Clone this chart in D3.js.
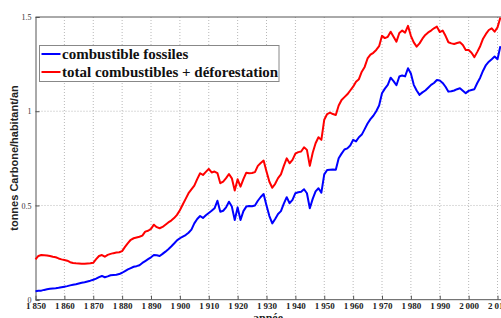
<!DOCTYPE html>
<html>
<head>
<meta charset="utf-8">
<script src="https://d3js.org/d3.v7.min.js"></script>
<style>
    body { margin: 0; background: #fff; overflow: hidden; }
    svg { display: block; }
</style>
</head>
<body>
<script>
// years and per-capita emissions (tonnes of carbon per inhabitant per year)
var years = d3.range(1850, 2012);

var fossil = [
    0.045, 0.047, 0.048, 0.052, 0.055, 0.058, 0.060, 0.061, 0.063, 0.066,
    0.069, 0.072, 0.076, 0.079, 0.082, 0.086, 0.090, 0.093, 0.097, 0.101,
    0.106, 0.112, 0.120, 0.126, 0.119, 0.124, 0.130, 0.131, 0.132, 0.136,
    0.143, 0.152, 0.161, 0.168, 0.175, 0.178, 0.183, 0.195, 0.205, 0.215,
    0.225, 0.237, 0.236, 0.232, 0.243, 0.255, 0.268, 0.282, 0.298, 0.315,
    0.326, 0.335, 0.343, 0.355, 0.372, 0.405, 0.428, 0.444, 0.434, 0.448,
    0.460, 0.472, 0.485, 0.525, 0.467, 0.472, 0.490, 0.520, 0.494, 0.423,
    0.490, 0.423, 0.470, 0.494, 0.497, 0.496, 0.500, 0.525, 0.545, 0.561,
    0.500, 0.444, 0.405, 0.428, 0.455, 0.470, 0.510, 0.544, 0.512, 0.530,
    0.565, 0.570, 0.573, 0.586, 0.565, 0.485, 0.535, 0.575, 0.591, 0.568,
    0.665, 0.688, 0.690, 0.691, 0.690, 0.750, 0.775, 0.797, 0.803, 0.818,
    0.848, 0.840, 0.862, 0.876, 0.905, 0.935, 0.958, 0.976, 1.000, 1.030,
    1.095, 1.120, 1.140, 1.178, 1.160, 1.138, 1.184, 1.190, 1.185, 1.228,
    1.200, 1.140, 1.110, 1.087, 1.100, 1.110, 1.125, 1.140, 1.150, 1.166,
    1.163, 1.150, 1.130, 1.104, 1.106, 1.110, 1.117, 1.122, 1.109, 1.096,
    1.108, 1.113, 1.117, 1.150, 1.178, 1.215, 1.245, 1.263, 1.276, 1.290,
    1.276, 1.345
];

var total = [
    0.214, 0.232, 0.237, 0.236, 0.235, 0.232, 0.228, 0.225, 0.219, 0.214,
    0.211, 0.207, 0.199, 0.195, 0.193, 0.192, 0.191, 0.191, 0.192, 0.193,
    0.196, 0.215, 0.232, 0.237, 0.228, 0.238, 0.243, 0.247, 0.250, 0.252,
    0.258, 0.280, 0.300, 0.318, 0.326, 0.330, 0.334, 0.340, 0.361, 0.366,
    0.376, 0.398, 0.385, 0.379, 0.386, 0.398, 0.410, 0.420, 0.433, 0.450,
    0.475, 0.505, 0.535, 0.565, 0.585, 0.605, 0.640, 0.671, 0.662, 0.678,
    0.694, 0.675, 0.680, 0.672, 0.618, 0.627, 0.645, 0.667, 0.644, 0.579,
    0.639, 0.600, 0.640, 0.674, 0.671, 0.672, 0.677, 0.710, 0.725, 0.738,
    0.680, 0.626, 0.594, 0.615, 0.645, 0.665, 0.710, 0.750, 0.724, 0.742,
    0.775, 0.783, 0.786, 0.809, 0.795, 0.710, 0.780, 0.830, 0.862, 0.848,
    0.955, 0.985, 0.993, 0.985, 0.980, 1.030, 1.060, 1.075, 1.090, 1.110,
    1.130, 1.157, 1.170, 1.210, 1.235, 1.280, 1.300, 1.310, 1.325, 1.345,
    1.400, 1.388, 1.395, 1.422, 1.395, 1.369, 1.415, 1.428, 1.417, 1.453,
    1.400, 1.365, 1.343, 1.360, 1.385, 1.405, 1.418, 1.428, 1.440, 1.449,
    1.420, 1.428, 1.400, 1.366, 1.360, 1.357, 1.362, 1.366, 1.352, 1.325,
    1.325, 1.310, 1.287, 1.315, 1.345, 1.385, 1.410, 1.431, 1.440, 1.422,
    1.445, 1.497
];

var xTicks = d3.range(1850, 2011, 10);
var yTicks = [0, 0.5, 1, 1.5];
var seriesNames = ["combustible fossiles", "total combustibles + déforestation"];
var seriesColors = ["#0000ff", "#ff0000"];

var width = 501, height = 318;
var plotLeft = 35.5, plotTop = 17, plotBottom = 299.7;

var x = d3.scaleLinear().domain([1850, 2010]).range([plotLeft, 497.5]);
var y = d3.scaleLinear().domain([0, 1.5]).range([plotBottom, plotTop]);

var svg = d3.select("body").append("svg")
    .attr("width", width)
    .attr("height", height);

// dotted grid
svg.append("g").selectAll("line")
    .data(xTicks.slice(1))
    .enter().append("line")
    .attr("x1", function (d) { return x(d); })
    .attr("x2", function (d) { return x(d); })
    .attr("y1", plotTop)
    .attr("y2", plotBottom)
    .attr("stroke", "#b8b8b8")
    .attr("stroke-width", 1)
    .attr("stroke-dasharray", "1,2");

svg.append("g").selectAll("line")
    .data([0.5, 1])
    .enter().append("line")
    .attr("x1", plotLeft)
    .attr("x2", width)
    .attr("y1", function (d) { return y(d); })
    .attr("y2", function (d) { return y(d); })
    .attr("stroke", "#b8b8b8")
    .attr("stroke-width", 1)
    .attr("stroke-dasharray", "1,2");

// axes
svg.append("g")
    .attr("transform", "translate(0," + plotBottom + ")")
    .call(d3.axisBottom(x).tickValues(xTicks).tickSize(-4).tickPadding(3)
        .tickFormat(function (d) { return d3.format(",")(d).replace(",", "\u2009"); }))
    .call(function (g) {
        g.select(".domain").attr("stroke", "#555").attr("d", "M" + plotLeft + ",0H" + width);
        g.selectAll(".tick line").attr("stroke", "#555");
        g.selectAll("text")
            .attr("fill", "#222")
            .style("font", "bold 9px 'Liberation Serif', serif");
    });

svg.append("g")
    .attr("transform", "translate(" + plotLeft + ",0)")
    .call(d3.axisLeft(y).tickValues(yTicks).tickSize(-4).tickPadding(4)
        .tickFormat(function (d) { return d; }))
    .call(function (g) {
        g.select(".domain").attr("stroke", "#555");
        g.selectAll(".tick line").attr("stroke", "#555");
        g.selectAll("text")
            .attr("fill", "#333")
            .style("font", "8px 'Liberation Serif', serif");
    });

// top border
svg.append("line")
    .attr("x1", plotLeft).attr("x2", width)
    .attr("y1", plotTop).attr("y2", plotTop)
    .attr("stroke", "#555");

// series lines
var line = d3.line()
    .x(function (d) { return x(d[0]); })
    .y(function (d) { return y(d[1]); });

[fossil, total].forEach(function (vals, i) {
    svg.append("path")
        .datum(years.map(function (yr, j) { return [yr, vals[j]]; }))
        .attr("fill", "none")
        .attr("stroke", seriesColors[i])
        .attr("stroke-width", 2)
        .attr("stroke-linejoin", "round")
        .attr("d", line);
});

// axis titles
svg.append("text")
    .attr("transform", "translate(18,158) rotate(-90)")
    .attr("text-anchor", "middle")
    .style("font", "bold 11px 'Liberation Sans', sans-serif")
    .attr("fill", "#222")
    .text("tonnes Carbone/habitant/an");

svg.append("text")
    .attr("x", 268)
    .attr("y", 322)
    .attr("text-anchor", "middle")
    .style("font", "bold 12px 'Liberation Serif', serif")
    .attr("fill", "#222")
    .text("année");

// legend
var legend = svg.append("g");
legend.append("rect")
    .attr("x", 39.5).attr("y", 45.5)
    .attr("width", 239.5).attr("height", 36)
    .attr("fill", "#fff")
    .attr("stroke", "#888");

seriesNames.forEach(function (name, i) {
    var ly = 54 + i * 18;
    legend.append("line")
        .attr("x1", 41.5).attr("x2", 60.5)
        .attr("y1", ly).attr("y2", ly)
        .attr("stroke", seriesColors[i])
        .attr("stroke-width", 2);
    legend.append("text")
        .attr("x", 62)
        .attr("y", ly + 4.5)
        .style("font", "bold 15px 'Liberation Serif', serif")
        .attr("fill", "#111")
        .text(name);
});
</script>
</body>
</html>
